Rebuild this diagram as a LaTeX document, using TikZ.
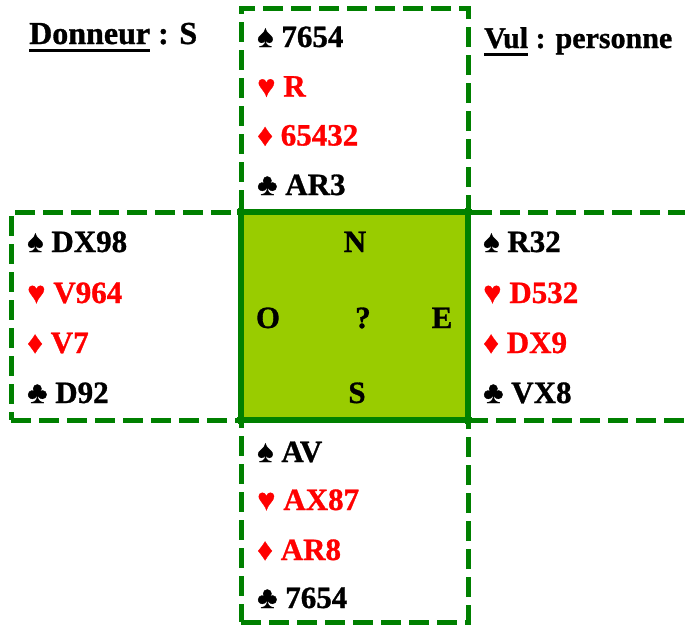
\documentclass[tikz,border=0pt]{standalone}
\usepackage{fontspec}
\setmainfont{Liberation Serif}[BoldFeatures={FakeBold=1}]
\usepackage{tikz}
\usepackage{xcolor}
\definecolor{bordvert}{HTML}{008000}
\definecolor{tapis}{HTML}{99CC00}
\definecolor{rouge}{HTML}{FF0000}
\newcommand{\cartes}{\fontsize{31}{37}\selectfont\bfseries}
\newcommand{\Pique}{♠}
\newcommand{\Coeur}{♥}
\newcommand{\Carreau}{♦}
\newcommand{\Trefle}{♣}
\newcommand{\souligne}[1]{\setbox0\hbox{#1}\rlap{\rule[-8pt]{\wd0}{3pt}}\box0\relax}

\begin{document}
\begin{tikzpicture}[
    x=1pt, y=-1pt,
    hand/.style={draw=bordvert, line width=5pt, dash pattern=on 20pt off 8pt, inner sep=0pt},
    table/.style={fill=tapis, inner sep=0pt},
    edge/.style={draw=bordvert, line width=6pt, shorten <=-4pt, shorten >=-4pt},
    card/.style={anchor=base west, inner sep=0pt, font=\cartes},
    red card/.style={card, text=rouge},
    wind/.style={anchor=base, inner sep=0pt, font=\cartes},
  ]
  \useasboundingbox (0,0) rectangle (685,625);
  \clip (0,0) rectangle (685,625);

  % table
  \node[table, minimum width=227pt, minimum height=208pt] (tapis) at (354.5,316) {};

  % hands
  \node[hand, minimum width=227pt, minimum height=204pt] (nordbox) at (354.5,110) {};
  \node[hand, minimum width=230pt, minimum height=208pt] (ouestbox) at (126,316) {};
  \node[hand, minimum width=230pt, minimum height=208pt] (estbox) at (583,316) {};
  \node[hand, minimum width=227pt, minimum height=202pt] (sudbox) at (354.5,521) {};

  \draw[edge] (tapis.north west) -- (tapis.north east);
  \draw[edge] (tapis.south west) -- (tapis.south east);
  \draw[edge] (tapis.north west) -- (tapis.south west);
  \draw[edge] (tapis.north east) -- (tapis.south east);

  \node[wind] (N) at (355,252) {N};
  \node[wind] (O) at (268,328) {O};
  \node[wind] (Q) at (363,328) {?};
  \node[wind] (E) at (442,328) {E};
  \node[wind] (S) at (357,403) {S};

  % Nord
  \node[card] (nord1) at (257,47) {\Pique{} 7654};
  \node[red card] (nord2) at (257,96.5) {\Coeur{} R};
  \node[red card] (nord3) at (257,145.5) {\Carreau{} 65432};
  \node[card] (nord4) at (257,195) {\Trefle{} AR3};

  % Ouest
  \node[card] (ouest1) at (27,252) {\Pique{} DX98};
  \node[red card] (ouest2) at (27,303) {\Coeur{} V964};
  \node[red card] (ouest3) at (27,353) {\Carreau{} V7};
  \node[card] (ouest4) at (27,403) {\Trefle{} D92};

  % Est
  \node[card] (est1) at (483,252) {\Pique{} R32};
  \node[red card] (est2) at (483,303) {\Coeur{} D532};
  \node[red card] (est3) at (483,353) {\Carreau{} DX9};
  \node[card] (est4) at (483,403) {\Trefle{} VX8};

  % Sud
  \node[card] (sud1) at (257,462) {\Pique{} AV};
  \node[red card] (sud2) at (257,510) {\Coeur{} AX87};
  \node[red card] (sud3) at (257,560) {\Carreau{} AR8};
  \node[card] (sud4) at (257,608) {\Trefle{} 7654};

  \node[card, font=\fontsize{32}{38}\selectfont\bfseries] (donneur) at (29,44) {\souligne{Donneur} : S};
  \node[card, font=\fontsize{30}{36}\selectfont\bfseries] (vul) at (484,48) {\souligne{Vul} : personne};
\end{tikzpicture}
\end{document}
